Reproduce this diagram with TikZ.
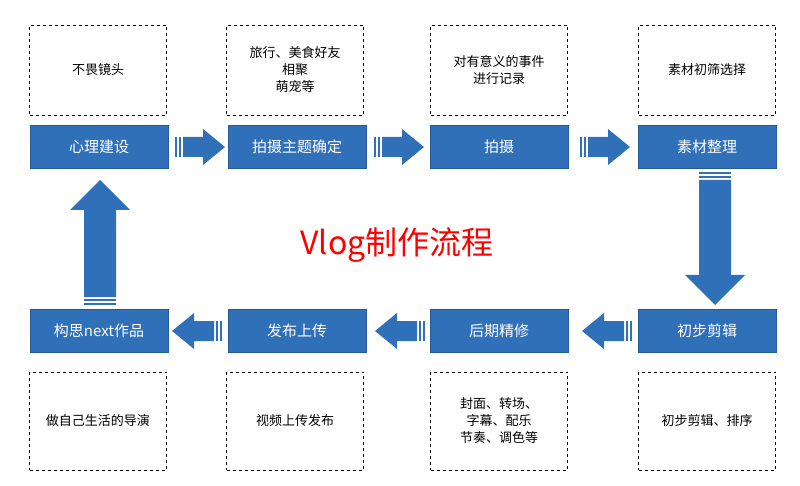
\documentclass[tikz,border=0pt]{standalone}
\usepackage{fontspec}
\setmainfont{Noto Sans CJK SC}
\begin{document}
\begin{tikzpicture}[x=1pt,y=-1pt]
\definecolor{bl}{HTML}{3070B8}
\tikzset{bar/.style={fill=bl,draw=bl!80!black,line width=0.6pt,minimum width=138pt,minimum height=43pt,text=white,font=\fontsize{15}{18}\selectfont,inner sep=0pt},
 dbox/.style={draw=black,dashed,line width=0.8pt,minimum width=137pt,text width=130pt,align=center,font=\fontsize{13}{17}\selectfont,inner sep=0pt}}
\useasboundingbox (0,0) rectangle (800,486);
\node[dbox,minimum height=90pt] (t1) at (98,70) {不畏镜头};
\node[dbox,minimum height=90pt] (t2) at (295,70) {旅行、美食好友\\相聚\\萌宠等};
\node[dbox,minimum height=90pt] (t3) at (499,70) {对有意义的事件\\进行记录};
\node[dbox,minimum height=90pt] (t4) at (707,70) {素材初筛选择};
\node[bar] (a1) at (99,147) {心理建设};
\node[bar] (a2) at (297,147) {拍摄主题确定};
\node[bar] (a3) at (499,147) {拍摄};
\node[bar] (a4) at (707,147) {素材整理};
\node[bar] (b1) at (99,331) {构思next作品};
\node[bar] (b2) at (297,331) {发布上传};
\node[bar] (b3) at (499,331) {后期精修};
\node[bar] (b4) at (707,331) {初步剪辑};
\node[dbox,minimum height=98pt] (d1) at (98,421) {做自己生活的导演};
\node[dbox,minimum height=98pt] (d2) at (295,421) {视频上传发布};
\node[dbox,minimum height=98pt] (d3) at (499,421) {封面、转场、\\字幕、配乐\\节奏、调色等};
\node[dbox,minimum height=98pt] (d4) at (707,421) {初步剪辑、排序};
\node[text=red,font=\fontsize{32}{36}\selectfont] (title) at (397,245) {Vlog制作流程};
\newcommand\myharrow[3]{%
 \pgfmathsetmacro\dd{(#2>#1)?1:-1}%
 \fill[bl] (#1,#3-10) rectangle ++(2*\dd,20);
 \fill[bl] (#1+4*\dd,#3-10) rectangle ++(2*\dd,20);
 \fill[bl] (#1+8*\dd,#3-10) -- (#2-22*\dd,#3-10) -- (#2-22*\dd,#3-18) -- (#2,#3) -- (#2-22*\dd,#3+18) -- (#2-22*\dd,#3+10) -- (#1+8*\dd,#3+10) -- cycle;}
\newcommand\myvarrow[3]{%
 \pgfmathsetmacro\dd{(#2>#1)?1:-1}%
 \fill[bl] (#3-16,#1) rectangle ++(32,2*\dd);
 \fill[bl] (#3-16,#1+4*\dd) rectangle ++(32,2*\dd);
 \fill[bl] (#3-16,#1+8*\dd) -- (#3-16,#2-30*\dd) -- (#3-30,#2-30*\dd) -- (#3,#2) -- (#3+30,#2-30*\dd) -- (#3+16,#2-30*\dd) -- (#3+16,#1+8*\dd) -- cycle;}
\myharrow{175}{225}{147}
\myharrow{374}{424}{147}
\myharrow{580}{630}{147}
\myharrow{222}{172}{331}
\myharrow{425}{375}{331}
\myharrow{632}{582}{331}
\myvarrow{305}{180}{100}
\myvarrow{172}{305}{715}
\end{tikzpicture}
\end{document}
